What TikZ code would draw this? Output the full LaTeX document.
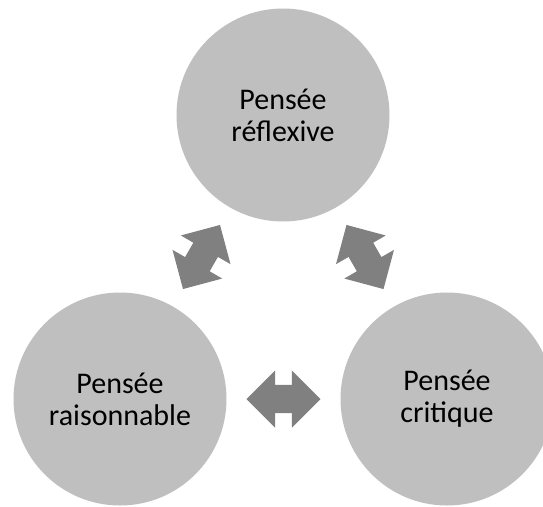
\documentclass[tikz,border=0pt]{standalone}
\usepackage{fontspec}
\setmainfont{Carlito}
\usepackage{tikz}
\usetikzlibrary{calc,shapes.arrows}
\definecolor{bg}{HTML}{FFFFFF}
\definecolor{discgray}{HTML}{BFBFBF}
\definecolor{linkgray}{HTML}{808080}
\definecolor{ink}{HTML}{000000}
\tikzset{
  disc/.style={circle, fill=discgray, minimum size=213pt, inner sep=0pt, align=center,
    text=ink, font=\fontsize{30}{32}\selectfont},
  link/.style={double arrow, fill=linkgray, minimum height=74pt, text height=14pt,
    text depth=14pt, double arrow head extend=14.5pt, inner sep=0pt},
}

\begin{document}
\begin{tikzpicture}[x=1pt,y=-1pt]
  \useasboundingbox[fill=bg] (0,0) rectangle (543,506);
  \coordinate (T) at (283,115);
  \coordinate (L) at (120,399);
  \coordinate (R) at (447,399);
  \node[disc] (rfx) at (T) {Pensée\\réflexive};
  \node[disc] (rais) at (L) {Pensée\\raisonnable};
  \node[disc] (crit) at (R) {Pensée\\critique};
  % double arrows between the circles
  \node[link, rotate=60] (lrf) at ($(rais)!0.5!(rfx)$) {};
  \node[link, rotate=-60] (rfc) at ($(rfx)!0.5!(crit)$) {};
  \node[link] (lrc) at ($(rais)!0.5!(crit)$) {};
\end{tikzpicture}
\end{document}
